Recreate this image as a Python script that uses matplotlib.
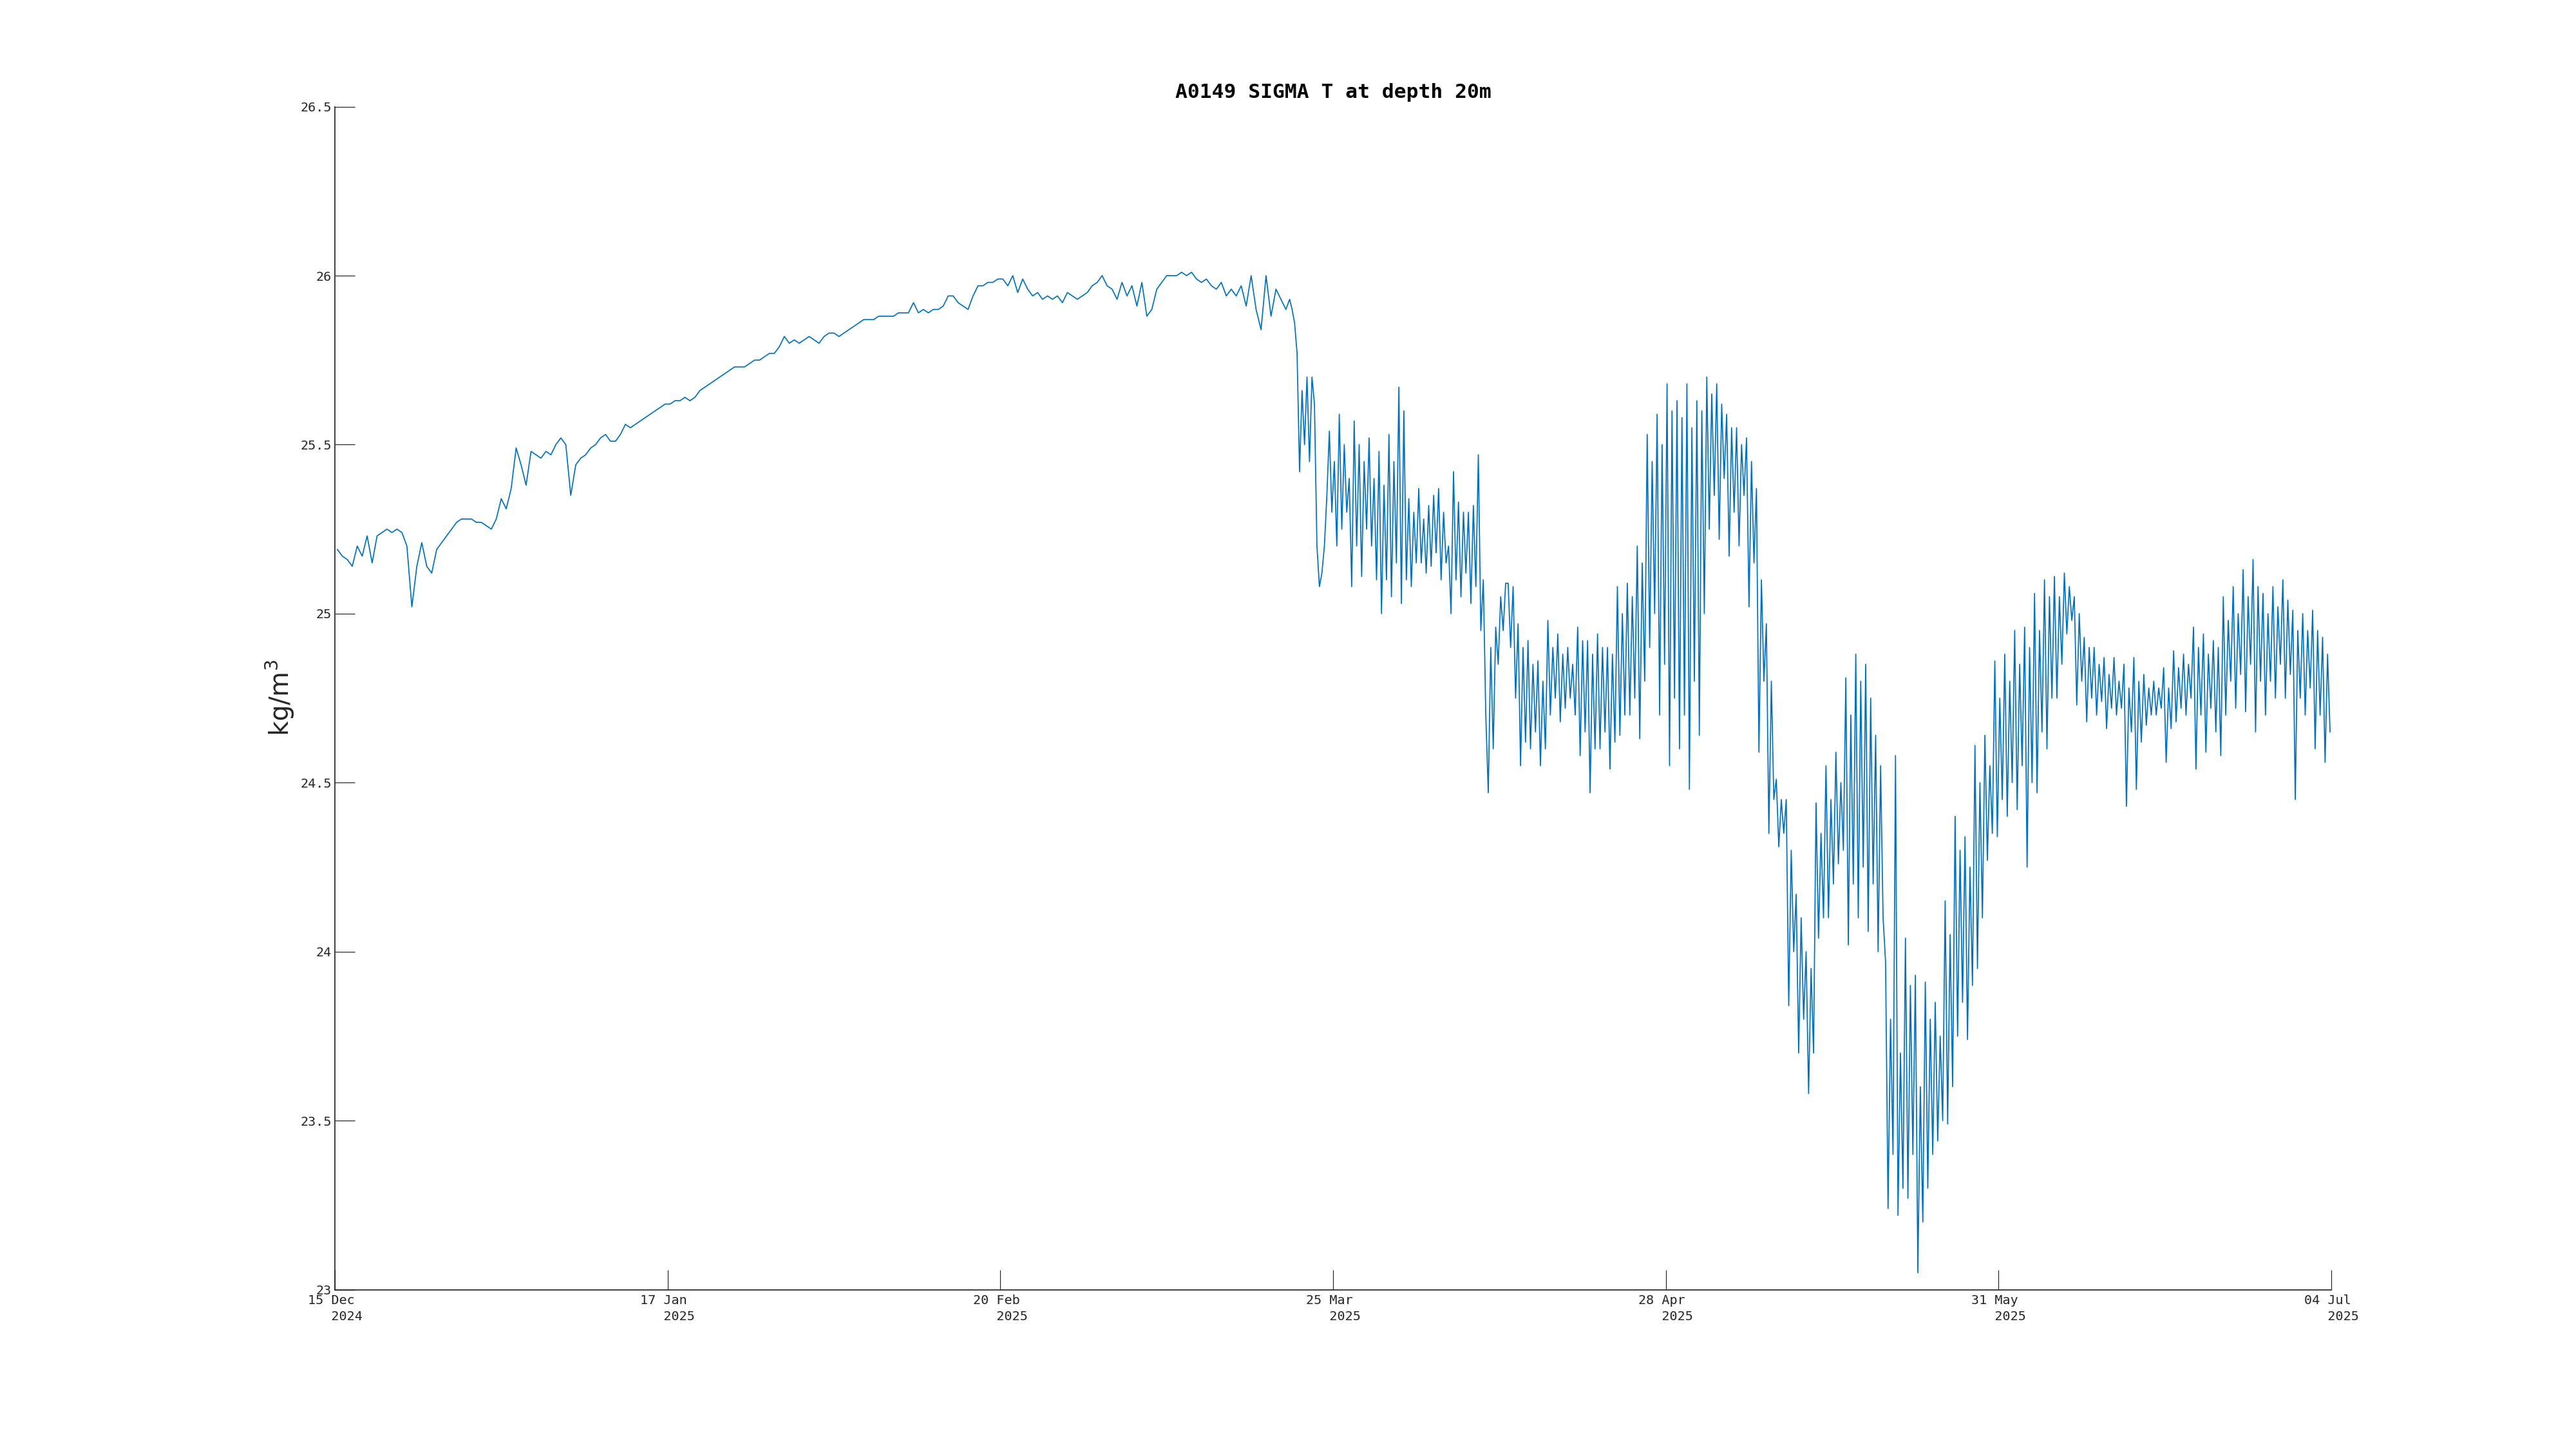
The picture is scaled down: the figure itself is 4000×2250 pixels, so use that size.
import numpy as np
import matplotlib
matplotlib.use("Agg")
import matplotlib.pyplot as plt

# sigma-t, 15 Dec 2024 .. 20 Mar 2025: two readings a day (06:00, 18:00)
sig_early = [25.19, 25.17, 25.16, 25.14, 25.20, 25.17, 25.23, 25.15, 25.23, 25.24,
             25.25, 25.24, 25.25, 25.24, 25.20, 25.02, 25.14, 25.21, 25.14, 25.12,
             25.19, 25.21, 25.23, 25.25, 25.27, 25.28, 25.28, 25.28, 25.27, 25.27,
             25.26, 25.25, 25.28, 25.34, 25.31, 25.37, 25.49, 25.44, 25.38, 25.48,
             25.47, 25.46, 25.48, 25.47, 25.50, 25.52, 25.50, 25.35, 25.44, 25.46,
             25.47, 25.49, 25.50, 25.52, 25.53, 25.51, 25.51, 25.53, 25.56, 25.55,
             25.56, 25.57, 25.58, 25.59, 25.60, 25.61, 25.62, 25.62, 25.63, 25.63,
             25.64, 25.63, 25.64, 25.66, 25.67, 25.68, 25.69, 25.70, 25.71, 25.72,
             25.73, 25.73, 25.73, 25.74, 25.75, 25.75, 25.76, 25.77, 25.77, 25.79,
             25.82, 25.80, 25.81, 25.80, 25.81, 25.82, 25.81, 25.80, 25.82, 25.83,
             25.83, 25.82, 25.83, 25.84, 25.85, 25.86, 25.87, 25.87, 25.87, 25.88,
             25.88, 25.88, 25.88, 25.89, 25.89, 25.89, 25.92, 25.89, 25.90, 25.89,
             25.90, 25.90, 25.91, 25.94, 25.94, 25.92, 25.91, 25.90, 25.94, 25.97,
             25.97, 25.98, 25.98, 25.99, 25.99, 25.97, 26.00, 25.95, 25.99, 25.96,
             25.94, 25.95, 25.93, 25.94, 25.93, 25.94, 25.92, 25.95, 25.94, 25.93,
             25.94, 25.95, 25.97, 25.98, 26.00, 25.97, 25.96, 25.93, 25.98, 25.94,
             25.97, 25.91, 25.98, 25.88, 25.90, 25.96, 25.98, 26.00, 26.00, 26.00,
             26.01, 26.00, 26.01, 25.99, 25.98, 25.99, 25.97, 25.96, 25.98, 25.94,
             25.96, 25.94, 25.97, 25.91, 26.00, 25.90, 25.84, 26.00, 25.88, 25.96,
             25.93, 25.90]

# 21 Mar .. 03 Jul 2025: four readings a day (03, 09, 15, 21 h)
sig_late = [25.93, 25.90, 25.86, 25.77,  25.42, 25.66, 25.50, 25.70,
            25.45, 25.70, 25.62, 25.20,  25.08, 25.12, 25.20, 25.35,
            25.54, 25.30, 25.45, 25.20,  25.59, 25.25, 25.50, 25.30,
            25.40, 25.08, 25.57, 25.20,  25.50, 25.11, 25.45, 25.25,
            25.52, 25.20, 25.40, 25.10,  25.48, 25.00, 25.38, 25.10,
            25.53, 25.05, 25.45, 25.15,  25.67, 25.03, 25.60, 25.10,
            25.34, 25.08, 25.30, 25.15,  25.37, 25.15, 25.28, 25.12,
            25.32, 25.14, 25.35, 25.18,  25.37, 25.10, 25.30, 25.15,
            25.20, 25.00, 25.42, 25.10,  25.33, 25.05, 25.30, 25.12,
            25.30, 25.03, 25.32, 25.08,  25.47, 24.95, 25.10, 24.70,
            24.47, 24.90, 24.60, 24.96,  24.85, 25.05, 24.95, 25.09,
            25.09, 24.90, 25.08, 24.75,  24.97, 24.55, 24.90, 24.62,
            24.92, 24.60, 24.85, 24.65,  24.86, 24.55, 24.80, 24.60,
            24.98, 24.70, 24.90, 24.75,  24.94, 24.68, 24.88, 24.72,
            24.90, 24.75, 24.85, 24.70,  24.96, 24.58, 24.92, 24.65,
            24.92, 24.47, 24.88, 24.60,  24.94, 24.60, 24.90, 24.65,
            24.90, 24.54, 24.88, 24.62,  25.08, 24.64, 25.00, 24.70,
            25.09, 24.70, 25.05, 24.75,  25.20, 24.63, 25.15, 24.80,
            25.53, 24.90, 25.45, 25.00,  25.59, 24.70, 25.50, 24.85,
            25.68, 24.55, 25.60, 24.75,  25.63, 24.60, 25.58, 24.70,
            25.68, 24.48, 25.55, 24.80,  25.63, 24.64, 25.60, 25.00,
            25.70, 25.25, 25.65, 25.35,  25.68, 25.22, 25.62, 25.40,
            25.59, 25.17, 25.55, 25.30,  25.55, 25.20, 25.50, 25.35,
            25.52, 25.02, 25.45, 25.15,  25.37, 24.59, 25.10, 24.80,
            24.97, 24.35, 24.80, 24.45,  24.51, 24.31, 24.45, 24.35,
            24.45, 23.84, 24.30, 24.00,  24.17, 23.70, 24.10, 23.80,
            24.00, 23.58, 23.95, 23.70,  24.44, 24.04, 24.35, 24.10,
            24.55, 24.10, 24.45, 24.20,  24.59, 24.26, 24.50, 24.30,
            24.81, 24.02, 24.70, 24.20,  24.88, 24.10, 24.80, 24.25,
            24.85, 24.06, 24.75, 24.20,  24.64, 24.00, 24.55, 24.10,
            23.97, 23.24, 23.80, 23.40,  24.58, 23.22, 23.70, 23.30,
            24.04, 23.27, 23.90, 23.40,  23.93, 23.05, 23.60, 23.20,
            23.91, 23.30, 23.80, 23.40,  23.85, 23.44, 23.75, 23.50,
            24.15, 23.49, 24.05, 23.60,  24.40, 23.75, 24.30, 23.85,
            24.34, 23.74, 24.25, 23.90,  24.61, 23.95, 24.50, 24.10,
            24.64, 24.27, 24.55, 24.35,  24.86, 24.34, 24.75, 24.45,
            24.88, 24.40, 24.80, 24.50,  24.95, 24.42, 24.85, 24.55,
            24.96, 24.25, 24.90, 24.50,  25.06, 24.47, 24.95, 24.65,
            25.10, 24.60, 25.05, 24.75,  25.11, 24.75, 25.05, 24.85,
            25.12, 24.94, 25.08, 24.98,  25.05, 24.73, 25.00, 24.80,
            24.93, 24.68, 24.90, 24.75,  24.90, 24.70, 24.85, 24.74,
            24.87, 24.66, 24.82, 24.72,  24.87, 24.70, 24.80, 24.72,
            24.85, 24.43, 24.78, 24.65,  24.87, 24.48, 24.80, 24.62,
            24.82, 24.67, 24.78, 24.70,  24.80, 24.70, 24.78, 24.72,
            24.84, 24.56, 24.78, 24.66,  24.89, 24.68, 24.84, 24.72,
            24.88, 24.70, 24.85, 24.75,  24.96, 24.54, 24.90, 24.70,
            24.94, 24.59, 24.88, 24.72,  24.92, 24.65, 24.90, 24.58,
            25.05, 24.70, 24.98, 24.80,  25.08, 24.72, 25.00, 24.82,
            25.13, 24.71, 25.05, 24.85,  25.16, 24.65, 25.08, 24.80,
            25.06, 24.70, 25.00, 24.80,  25.08, 24.75, 25.02, 24.85,
            25.10, 24.75, 25.04, 24.82,  25.01, 24.45, 24.95, 24.75,
            25.00, 24.70, 24.95, 24.78,  25.01, 24.60, 24.95, 24.70,
            24.93, 24.56, 24.88, 24.65]

# ticks are evenly spaced (33.5 days) over the record
tick_dates = ["2024-12-15T00:00", "2025-01-17T12:00", "2025-02-20T00:00", "2025-03-25T12:00",
              "2025-04-28T00:00", "2025-05-31T12:00", "2025-07-04T00:00"]
tick_labels = ["15 Dec\n   2024", "17 Jan\n   2025", "20 Feb\n   2025", "25 Mar\n   2025",
               "28 Apr\n   2025", "31 May\n   2025", "04 Jul\n   2025"]
y_ticks = [23, 23.5, 24, 24.5, 25, 25.5, 26, 26.5]

start = np.datetime64("2024-12-15T00:00")
h_early = np.arange(len(sig_early)) * 12 + 6
h_late = 96 * 24 + np.arange(len(sig_late)) * 6 + 3
t = start + np.concatenate([h_early, h_late]).astype("timedelta64[h]")
sig = np.array(sig_early + sig_late)

axcol = "#262626"
mono = "DejaVu Sans Mono"

fig = plt.figure(figsize=(16, 9), dpi=250)
ax = fig.add_axes([0.13, 0.11, 0.775, 0.8164])

ax.plot(t, sig, color="#0072BD", linewidth=0.5)

ax.set_xlim(np.datetime64(tick_dates[0]), np.datetime64(tick_dates[-1]))
ax.set_ylim(23, 26.5)

ax.set_xticks([np.datetime64(d) for d in tick_dates])
ax.set_xticklabels(tick_labels, family=mono, fontsize=5.8, color=axcol,
                   ha="center", multialignment="left", linespacing=1.35)
ax.set_yticks(y_ticks)
ax.set_yticklabels(["%g" % v for v in y_ticks], family=mono, fontsize=5.8, color=axcol)

ax.tick_params(axis="both", direction="in", length=8.9, width=0.35, color=axcol)
ax.tick_params(axis="x", pad=2.3)
ax.tick_params(axis="y", pad=1.4)

for s in ["top", "right"]:
    ax.spines[s].set_visible(False)
for s in ["left", "bottom"]:
    ax.spines[s].set_color(axcol)
    ax.spines[s].set_linewidth(0.5)

ax.set_title("A0149 SIGMA T at depth 20m", family=mono, fontweight="bold",
             fontsize=9, color="black", pad=4)

plt.rcParams["mathtext.fontset"] = "dejavusans"
ax.set_ylabel("kg/m$^3$", fontsize=11.5, color=axcol, family="DejaVu Sans")
ax.yaxis.set_label_coords(-0.0193, 0.5)

fig.savefig("out.png", dpi=250, facecolor="white")
